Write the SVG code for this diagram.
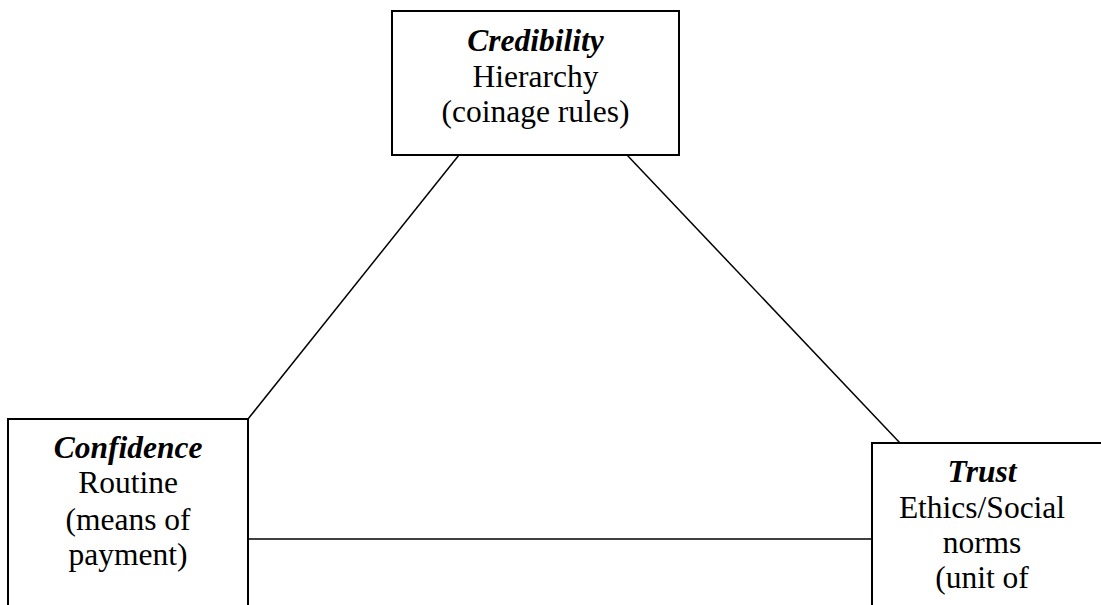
<svg xmlns="http://www.w3.org/2000/svg" width="1101" height="605" viewBox="0 0 1101 605">
<style>
.box{fill:#fff;stroke:#000;stroke-width:2}
.ln{stroke:#000;stroke-width:1.5;fill:none}
text{font-family:"Liberation Serif","Times New Roman",serif;font-size:31.5px;fill:#000;text-anchor:middle}
.t{font-weight:bold;font-style:italic}
</style>
<rect width="1101" height="605" fill="#fff"/>
<g id="connectors">
<line class="ln" x1="459" y1="155" x2="248" y2="419"/>
<line class="ln" x1="627" y1="155" x2="900" y2="443"/>
<line class="ln" x1="248" y1="539" x2="872" y2="539"/>
</g>
<g id="credibility">
<rect class="box" x="392" y="11" width="287" height="144"/>
<text x="535.5" y="51" class="t">Credibility</text>
<text x="535.5" y="87">Hierarchy</text>
<text x="535.5" y="122">(coinage rules)</text>
</g>
<g id="confidence">
<rect class="box" x="8" y="419" width="240" height="200"/>
<text x="128" y="458" class="t">Confidence</text>
<text x="128" y="493">Routine</text>
<text x="128" y="530">(means of</text>
<text x="128" y="565">payment)</text>
</g>
<g id="trust">
<rect class="box" x="872" y="443" width="240" height="180"/>
<text x="982" y="482" class="t">Trust</text>
<text x="982" y="518">Ethics/Social</text>
<text x="982" y="553">norms</text>
<text x="982" y="588">(unit of</text>
</g>
</svg>
